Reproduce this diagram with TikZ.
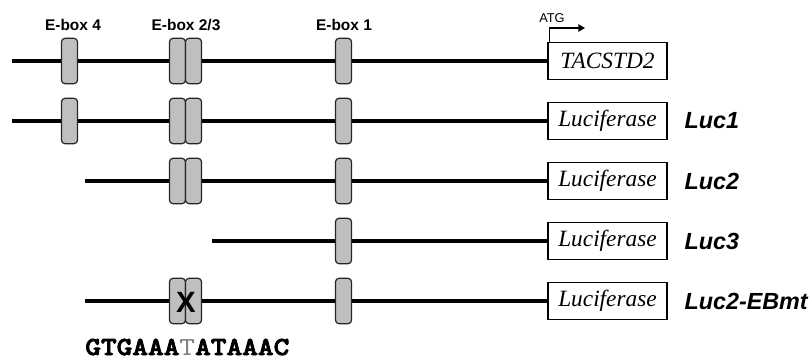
\documentclass[tikz,border=0pt]{standalone}
\usepackage{fontspec}
\setmainfont{Liberation Sans}
\newfontfamily\genefont{Liberation Serif}
\newfontfamily\seqfont{lmmonolt10-bold.otf}[FakeStretch=1.15,FakeBold=3]
\newfontfamily\seqthin{lmmono10-regular.otf}[FakeStretch=1.15]
\usepackage{tikz}
\usetikzlibrary{arrows.meta,positioning}

\tikzset{
  dna/.style={line width=2.4pt},
  ebox/.style={draw=black!85, fill=black!25, line width=0.9pt, rounded corners=2.6pt,
    minimum width=12pt, minimum height=34pt, inner sep=0pt},
  genebox/.style={draw, line width=1.2pt, minimum width=89pt, minimum height=27.5pt,
    inner sep=0pt, font=\genefont\itshape\fontsize{17.5}{18}\selectfont},
  eboxlabel/.style={font=\bfseries\fontsize{11.6}{12}\selectfont},
  construct/.style={inner sep=0pt, font=\bfseries\itshape\fontsize{17.5}{18}\selectfont},
}

\begin{document}
\begin{tikzpicture}[x=0.75pt,y=-0.75pt]
\useasboundingbox (0,0) rectangle (812,359);

% E-box headings
\node[eboxlabel] (h4) at (73,25) {E-box 4};
\node[eboxlabel] (h23) at (186,25) {E-box 2/3};
\node[eboxlabel] (h1) at (344,25) {E-box 1};

% native gene with start codon
\node[genebox] (tac) at (607.5,61) {TACSTD2};
\coordinate (s61) at (12,61);
\draw[dna] (s61) -- (tac);
\coordinate (atg) at (585,28);
\draw[-{Triangle[length=5pt,width=5.5pt]},line width=1.1pt] ([xshift=1.5pt]tac.north west) |- (atg);
\node[font=\fontsize{9.6}{10}\selectfont] (atglabel) at (552,18) {ATG};

% reporter constructs
\foreach \y/\x/\name in {121/12/Luc1,181/85/Luc2,241/212/Luc3,301/85/Luc2-EBmt}{
  \node[genebox] (box\y) at (607.5,\y) {Luciferase};
  \coordinate (s\y) at (\x,\y);
  \draw[dna] (s\y) -- (box\y);
  \node[construct, right=12.5pt of box\y] (lab\y) {\name};
}

% E-boxes
\foreach \y in {61,121}
  \node[ebox] (ebfour\y) at (69.5,\y) {};
\foreach \y in {61,121,181,301}{
  \node[ebox] (ebtwo\y) at (177.5,\y) {};
  \node[ebox] (ebthree\y) at (193.5,\y) {};
}
\foreach \y in {61,121,181,241,301}
  \node[ebox] (ebone\y) at (343.5,\y) {};

% mutated E-box and sequence
\node[font=\bfseries\fontsize{22}{22}\selectfont] (mut) at (186,302) {X};
\node[anchor=base west, inner sep=0pt, font=\seqfont\fontsize{19.5}{20}\selectfont] (seq) at (85,355)
  {GTGAAA{\seqthin\color{gray}T}ATAAAC};
\end{tikzpicture}
\end{document}
